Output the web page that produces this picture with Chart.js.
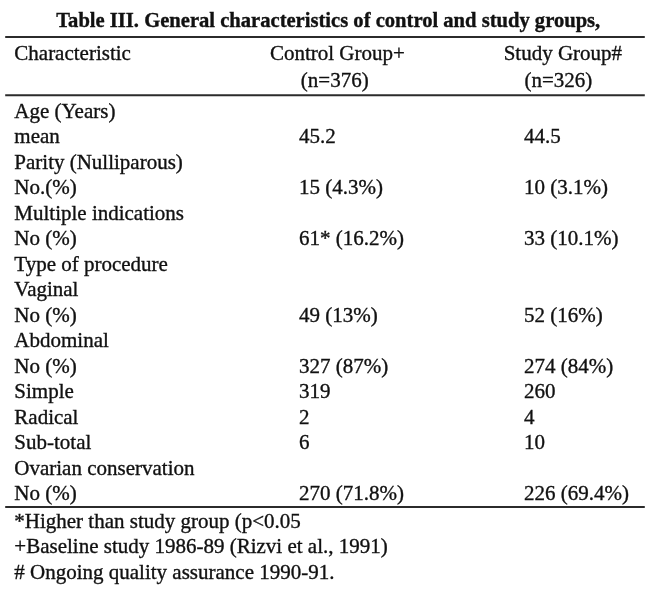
<!DOCTYPE html>
<html>
<head>
<meta charset="utf-8">
<title>Table III</title>
<script src="https://cdn.jsdelivr.net/npm/chart.js@4.4.0/dist/chart.umd.min.js"></script>
<style>
  html, body { margin: 0; padding: 0; background: #fff; }
  #wrap { width: 650px; height: 598px; }
</style>
</head>
<body>
<div id="wrap"><canvas id="table3" width="650" height="598"></canvas></div>
<script>
// table content
var tableTitle = 'Table III. General characteristics of control and study groups,';
var headers = ['Characteristic', 'Control Group+', 'Study Group#'];
var groupSizes = ['', '(n=376)', '(n=326)'];
var characteristics = ['Age (Years)', 'mean', 'Parity (Nulliparous)', 'No.(%)',
    'Multiple indications', 'No (%)', 'Type of procedure', 'Vaginal', 'No (%)',
    'Abdominal', 'No (%)', 'Simple', 'Radical', 'Sub-total', 'Ovarian conservation', 'No (%)'];
var controlGroup = ['', '45.2', '', '15 (4.3%)', '', '61* (16.2%)', '', '', '49 (13%)',
    '', '327 (87%)', '319', '2', '6', '', '270 (71.8%)'];
var studyGroup = ['', '44.5', '', '10 (3.1%)', '', '33 (10.1%)', '', '', '52 (16%)',
    '', '274 (84%)', '260', '4', '10', '', '226 (69.4%)'];
var footnotes = ['*Higher than study group (p<0.05',
    '+Baseline study 1986-89 (Rizvi et al., 1991)',
    '# Ongoing quality assurance 1990-91.'];

// layout: x in fractions of the width, y in body-row units
var colX = { label: 0.022, control: 0.46, study: 0.806, controlHead: 0.519, studyHead: 0.866, title: 0.505 };
var rowY = { title: -3.55, rule1: -2.94, head1: -2.27, head2: -1.21, rule2: -0.66, rule3: 15.47, foot: 16.06 };
var bodyFont = '21px "Liberation Serif", "Times New Roman", serif';
var titleFont = 'bold 20px "Liberation Serif", "Times New Roman", serif';
var ink = '#111';

function textSet(texts, xs, ys, font, align, extra) {
    var ds = {
        type: 'scatter',
        data: texts.map(function (t, i) { return { x: xs(i), y: ys(i) }; }),
        texts: texts,
        font: font,
        align: align,
        pointRadius: 0,
        pointHoverRadius: 0
    };
    return Object.assign(ds, extra || {});
}

function rule(y) {
    return {
        type: 'line',
        data: [{ x: 0.008, y: y }, { x: 0.992, y: y }],
        borderColor: '#2b2b2b',
        borderWidth: 2,
        pointRadius: 0,
        fill: false
    };
}

// draws the cell texts at the points the scales gave
var tableText = {
    id: 'tableText',
    afterDatasetsDraw: function (chart) {
        var ctx = chart.ctx;
        chart.data.datasets.forEach(function (ds, i) {
            if (!ds.texts) return;
            var meta = chart.getDatasetMeta(i);
            ctx.save();
            ctx.font = ds.font;
            ctx.fillStyle = ink;
            ctx.strokeStyle = ink;
            ctx.lineWidth = 0.35;
            ctx.textAlign = ds.align;
            ctx.textBaseline = 'middle';
            meta.data.forEach(function (pt, j) {
                var t = ds.texts[j];
                if (!t) return;
                var k = ds.fitWidth ? ds.fitWidth / ctx.measureText(t).width : 1;
                ctx.save();
                ctx.translate(pt.x, pt.y);
                ctx.scale(k, 1);
                ctx.fillText(t, 0, 0);
                ctx.strokeText(t, 0, 0);
                ctx.restore();
            });
            ctx.restore();
        });
    }
};

var datasets = [
    rule(rowY.rule1),
    rule(rowY.rule2),
    rule(rowY.rule3),
    textSet([tableTitle], function () { return colX.title; }, function () { return rowY.title; }, titleFont, 'center', { fitWidth: 544 }),
    textSet([headers[0]], function () { return colX.label; }, function () { return rowY.head1; }, bodyFont, 'left'),
    textSet(headers.slice(1), function (i) { return i ? colX.studyHead : colX.controlHead; }, function () { return rowY.head1; }, bodyFont, 'center'),
    textSet(groupSizes.slice(1), function (i) { return i ? colX.studyHead - 0.007 : colX.controlHead - 0.004; }, function () { return rowY.head2; }, bodyFont, 'center'),
    textSet(characteristics, function () { return colX.label; }, function (i) { return i; }, bodyFont, 'left'),
    textSet(controlGroup, function () { return colX.control; }, function (i) { return i; }, bodyFont, 'left'),
    textSet(studyGroup, function () { return colX.study; }, function (i) { return i; }, bodyFont, 'left'),
    textSet(footnotes, function () { return colX.label; }, function (i) { return rowY.foot + i; }, bodyFont, 'left')
];

var ctx = document.getElementById('table3').getContext('2d');
var chart = new Chart(ctx, {
    type: 'scatter',
    data: { datasets: datasets },
    options: {
        responsive: false,
        animation: false,
        devicePixelRatio: 1,
        layout: { padding: 0 },
        events: [],
        scales: {
            x: { type: 'linear', min: 0, max: 1, display: false },
            y: { type: 'linear', reverse: true, min: -4.387, max: 19.036, display: false }
        },
        plugins: {
            legend: { display: false },
            tooltip: { enabled: false },
            title: { display: false }
        }
    },
    plugins: [tableText]
});
</script>
</body>
</html>
